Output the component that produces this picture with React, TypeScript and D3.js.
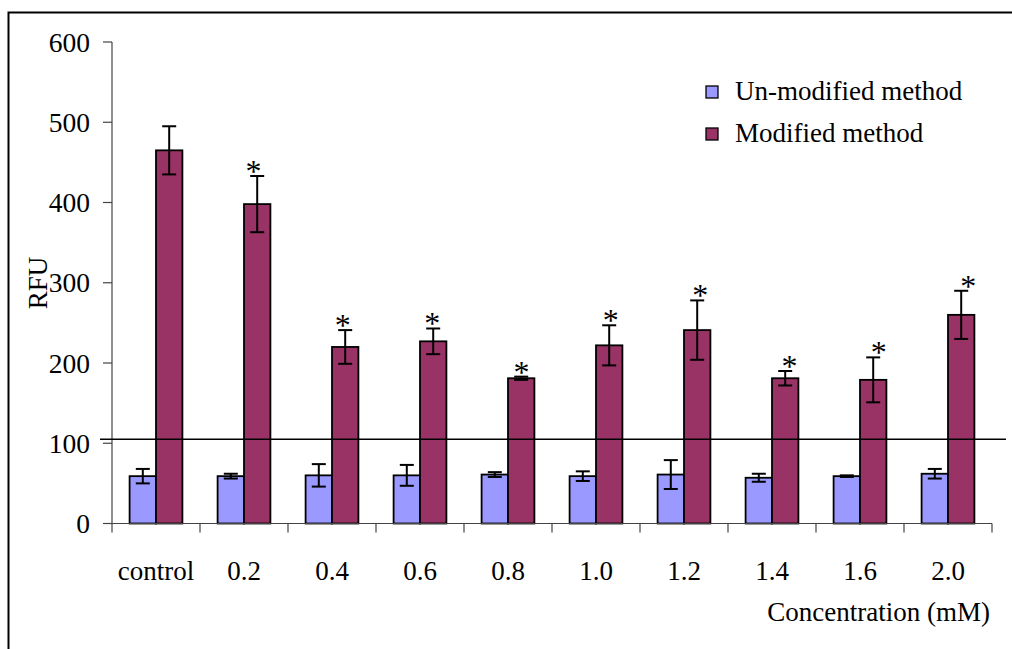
import React from "react";
import * as d3 from "d3";

const categories = ["control", "0.2", "0.4", "0.6", "0.8", "1.0", "1.2", "1.4", "1.6", "2.0"];
const unmodified = [59, 59, 60, 60, 61, 59, 61, 57, 59, 62];
const unmodifiedErr = [9, 3, 14, 13, 3, 6, 18, 5, 1, 6];
const modified = [465, 398, 220, 227, 181, 222, 241, 181, 179, 260];
const modifiedErr = [30, 35, 21, 16, 2, 25, 37, 9, 28, 30];
const significant = [false, true, true, true, true, true, true, true, true, true];
const yTicks = [0, 100, 200, 300, 400, 500, 600];
const referenceLevel = 105;
const seriesNames = ["Un-modified method", "Modified method"];
const seriesColors = ["#9999FF", "#993366"];

const W = 1012;
const H = 649;
const FONT = "'Liberation Serif', 'Times New Roman', serif";

export default function App() {
  const x = d3.scaleBand<string>().domain(categories).range([112, 992]).paddingInner(0).paddingOuter(0);
  const y = d3.scaleLinear().domain([0, 600]).range([523.5, 42]);
  const bw = x.bandwidth();
  const barW = bw * 0.3;
  const starOffset = d3.scaleLinear().domain([0, categories.length - 1]).range([-5, 7]);
  const series = [
    { vals: unmodified, errs: unmodifiedErr },
    { vals: modified, errs: modifiedErr },
  ];

  return (
    <svg width={W} height={H} style={{ position: "absolute", left: 0, top: 0, background: "#fff" }} fontFamily={FONT}>
      <rect x={0} y={0} width={W} height={H} fill="#fff" />
      <rect x={8.5} y={12.5} width={1200} height={1000} fill="none" stroke="#000" strokeWidth={2} />

      {/* y axis */}
      <line x1={112} x2={112} y1={y(600)} y2={y(0)} stroke="#444" strokeWidth={1.2} />
      {yTicks.map((t) => (
        <g key={t}>
          <line x1={103} x2={112} y1={y(t)} y2={y(t)} stroke="#444" strokeWidth={1.2} />
          <text x={90} y={y(t)} dy="0.35em" textAnchor="end" fontSize={27.5} fill="#000">
            {t}
          </text>
        </g>
      ))}
      <text transform={`translate(47,283) rotate(-90)`} textAnchor="middle" fontSize={27} fill="#000">
        RFU
      </text>

      {/* bars */}
      {categories.map((c, i) => {
        const cx = (x(c) as number) + bw / 2;
        return (
          <g key={c}>
            {series.map((s, si) => {
              const bx = cx - barW + si * barW;
              return (
                <rect
                  key={si}
                  x={bx}
                  y={y(s.vals[i])}
                  width={barW}
                  height={y(0) - y(s.vals[i])}
                  fill={seriesColors[si]}
                  stroke="#000"
                  strokeWidth={1.8}
                />
              );
            })}
          </g>
        );
      })}

      {/* x axis */}
      <line x1={112} x2={992} y1={y(0)} y2={y(0)} stroke="#444" strokeWidth={1.2} />
      {categories.map((c) => (
        <line key={"t" + c} x1={x(c) as number} x2={x(c) as number} y1={y(0)} y2={y(0) + 9} stroke="#444" strokeWidth={1.2} />
      ))}
      <line x1={992} x2={992} y1={y(0)} y2={y(0) + 9} stroke="#444" strokeWidth={1.2} />
      {categories.map((c) => (
        <text key={"l" + c} x={(x(c) as number) + bw / 2} y={580} textAnchor="middle" fontSize={27} fill="#000">
          {c}
        </text>
      ))}
      <text x={990} y={621} textAnchor="end" fontSize={27} fill="#000">
        Concentration (mM)
      </text>

      {/* reference line */}
      <line x1={100} x2={1006} y1={y(referenceLevel)} y2={y(referenceLevel)} stroke="#000" strokeWidth={1.5} />

      {/* error bars */}
      {categories.map((c, i) => {
        const cx = (x(c) as number) + bw / 2;
        return (
          <g key={"e" + c}>
            {series.map((s, si) => {
              const ex = cx - barW / 2 + si * barW;
              const top = y(s.vals[i] + s.errs[i]);
              const bot = y(s.vals[i] - s.errs[i]);
              return (
                <g key={si} stroke="#000" strokeWidth={2}>
                  <line x1={ex} x2={ex} y1={top} y2={bot} />
                  <line x1={ex - 7} x2={ex + 7} y1={top} y2={top} />
                  <line x1={ex - 7} x2={ex + 7} y1={bot} y2={bot} />
                </g>
              );
            })}
            {significant[i] && (
              <text
                x={cx + barW / 2 + starOffset(i)}
                y={y(modified[i] + modifiedErr[i]) + 6}
                textAnchor="middle"
                fontSize={32}
                fill="#000"
              >
                *
              </text>
            )}
          </g>
        );
      })}

      {/* legend */}
      {seriesNames.map((n, i) => (
        <g key={n}>
          <rect x={706} y={86 + i * 42} width={12} height={12} fill={seriesColors[i]} stroke="#000" strokeWidth={1.3} />
          <text x={735} y={100 + i * 42} fontSize={27} fill="#000">
            {n}
          </text>
        </g>
      ))}
    </svg>
  );
}
